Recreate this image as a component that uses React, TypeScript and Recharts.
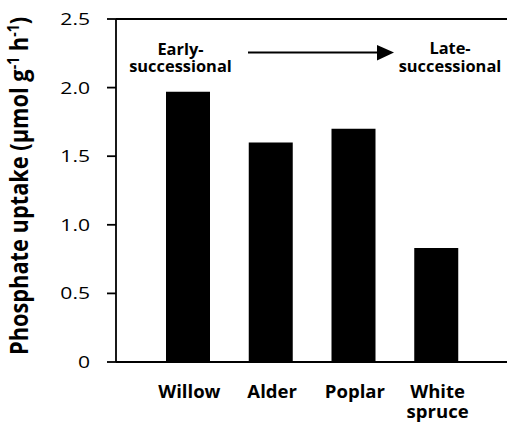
import React from 'react';
import { BarChart, Bar, XAxis, YAxis, ReferenceLine } from 'recharts';

const species = ['Willow', 'Alder', 'Poplar', 'White spruce'];
const uptake = [1.97, 1.6, 1.7, 0.83];
const yTicks = [0, 0.5, 1.0, 1.5, 2.0, 2.5];
const yLabel = 'Phosphate uptake (µmol g';
const earlyLabel = ['Early-', 'successional'];
const lateLabel = ['Late-', 'successional'];

const data = species.map((s, i) => ({ name: s, value: uptake[i] }));

const FONT = '"Open Sans", "Noto Sans", sans-serif';

const XTick = (props: any) => {
  const { x, payload } = props;
  const words = String(payload.value).split(' ');
  return (
    <g transform={`translate(${x + 1},398) scale(1.06,1)`}>
      <text textAnchor="middle" fontFamily={FONT} fontWeight="bold" fontSize={17.5} fill="#000">
        {words.map((w: string, i: number) => (
          <tspan key={i} x={0} dy={i === 0 ? 0 : 20.5}>
            {w}
          </tspan>
        ))}
      </text>
    </g>
  );
};

const YTick = (props: any) => {
  const { x, y, payload } = props;
  const v = Number(payload.value);
  const label = v === 0 ? '0' : v.toFixed(1);
  return (
    <g transform={`translate(${x},${y}) scale(1.28,1)`}>
      <text textAnchor="end" dy="0.36em" fontFamily={FONT} fontSize={16.5} fill="#000">
        {label}
      </text>
    </g>
  );
};

const YLabel = () => (
  <text
    transform="translate(28, 186) rotate(-90) scale(1, 1.15)"
    textAnchor="middle"
    fontFamily={FONT}
    fontWeight="bold"
    fontSize={21.8}
    fill="#000"
  >
    {yLabel}
    <tspan dy={-8} fontSize={14}>-1</tspan>
    <tspan dy={8}> h</tspan>
    <tspan dy={-8} fontSize={14}>-1</tspan>
    <tspan dy={8}>)</tspan>
  </text>
);

export default function App() {
  return (
    <div style={{ position: 'absolute', left: 0, top: 0, width: 507, height: 426 }}>
      <BarChart
        width={507}
        height={426}
        data={data}
        margin={{ top: 19, right: 0, bottom: 0, left: 0 }}
        barCategoryGap={0}
      >
        <XAxis
          dataKey="name"
          height={64}
          tickLine={false}
          axisLine={{ stroke: '#000', strokeWidth: 1.8 }}
          tick={<XTick />}
          padding={{ left: 31, right: 29 }}
          interval={0}
        />
        <YAxis
          width={116}
          domain={[0, 2.5]}
          ticks={yTicks}
          tickSize={9}
          tickMargin={17}
          tickLine={{ stroke: '#000', strokeWidth: 1.8 }}
          axisLine={{ stroke: '#000', strokeWidth: 1.8 }}
          tick={<YTick />}
          label={<YLabel />}
        />
        <ReferenceLine y={2.5} stroke="#000" strokeWidth={1.8} />
        <Bar dataKey="value" fill="#000" barSize={44} isAnimationActive={false} />
      </BarChart>
      <svg
        width={507}
        height={426}
        style={{ position: 'absolute', left: 0, top: 0, pointerEvents: 'none' }}
      >
        <g fontFamily={FONT} fontWeight="bold" fontSize={16.4} fill="#000" textAnchor="middle">
          <text x={180.5} y={55}>
            <tspan x={180.5} dy={0}>{earlyLabel[0]}</tspan>
            <tspan x={180.5} dy={17}>{earlyLabel[1]}</tspan>
          </text>
          <text x={450} y={54}>
            <tspan x={450} dy={0}>{lateLabel[0]}</tspan>
            <tspan x={450} dy={18}>{lateLabel[1]}</tspan>
          </text>
        </g>
        <line x1={248} y1={52.5} x2={380} y2={52.5} stroke="#000" strokeWidth={1.8} />
        <polygon points="377,45 394,52.5 377,60.5" fill="#000" />
      </svg>
    </div>
  );
}
